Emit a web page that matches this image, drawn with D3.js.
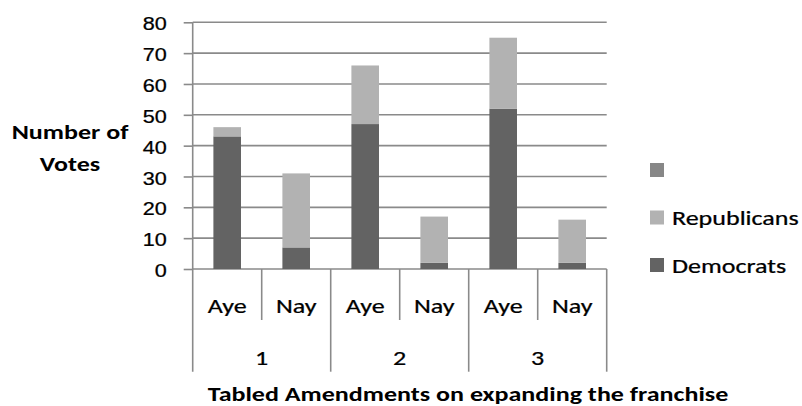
<!DOCTYPE html>
<html>
<head>
<meta charset="utf-8">
<script src="https://cdn.jsdelivr.net/npm/d3@7"></script>
<style>
  html, body { margin: 0; padding: 0; background: #fff; }
  svg { display: block; font-family: Calibri, Carlito, Lato, sans-serif; }
</style>
</head>
<body>
<svg id="chart" width="802" height="406"></svg>
<script>
// Votes on tabled amendments, split by party
const voteLabels = ["Aye", "Nay", "Aye", "Nay", "Aye", "Nay"];
const amendments = ["1", "2", "3"];
const democrats = [43, 7, 47, 2, 52, 2];
const republicans = [3, 24, 19, 15, 23, 14];
const unnamedSeries = [0, 0, 0, 0, 0, 0];
const seriesNames = ["Democrats", "Republicans", ""];
const yTicks = [0, 10, 20, 30, 40, 50, 60, 70, 80];
const yTitle = ["Number of", "Votes"];
const xTitle = "Tabled Amendments on expanding the franchise";

const colors = { "Democrats": "#636363", "Republicans": "#b2b2b2", "": "#878787" };
const gridColor = "#8a8a8a";
const SX = 1.24;     // horizontal stretch applied to labels
const SX_TICK = 1.2; // stretch for the value-axis numbers

const svg = d3.select("#chart");

const plotLeft = 192.7, plotRight = 606.7, plotTop = 22.3, plotBottom = 269;

const x = d3.scaleBand()
  .domain(d3.range(voteLabels.length))
  .range([plotLeft, plotRight])
  .paddingInner(0.6)
  .paddingOuter(0.3);
const step = x.step();

const y = d3.scaleLinear().domain([0, 80]).range([plotBottom, plotTop]);

// rows for stacking
const rows = voteLabels.map((v, i) => ({
  "Democrats": democrats[i],
  "Republicans": republicans[i],
  "": unnamedSeries[i]
}));
const stacked = d3.stack().keys(seriesNames)(rows);

function stretched(sel, tx, ty, sx = SX) {
  sel.attr("x", null).attr("y", null).attr("dy", null)
     .attr("transform", `translate(${tx},${ty}) scale(${sx},1)`);
  return sel;
}

// horizontal gridlines
svg.append("g")
  .selectAll("line")
  .data(yTicks)
  .join("line")
  .attr("x1", plotLeft).attr("x2", plotRight)
  .attr("y1", d => y(d)).attr("y2", d => y(d))
  .attr("stroke", gridColor).attr("stroke-width", 1.6);

// stacked bars
svg.append("g")
  .selectAll("g")
  .data(stacked)
  .join("g")
  .attr("fill", d => colors[d.key])
  .selectAll("rect")
  .data(d => d.map((s, i) => ({ s, i })))
  .join("rect")
  .attr("x", d => x(d.i))
  .attr("width", x.bandwidth())
  .attr("y", d => y(d.s[1]))
  .attr("height", d => y(d.s[0]) - y(d.s[1]));

// value axis with outward ticks
const yAxis = svg.append("g")
  .attr("transform", `translate(${plotLeft},0)`)
  .call(d3.axisLeft(y).tickValues(yTicks).tickSize(9).tickSizeOuter(0).tickFormat(d3.format("d")));
yAxis.select(".domain").remove();
yAxis.selectAll(".tick line").attr("stroke", gridColor).attr("stroke-width", 1.6);
yAxis.selectAll(".tick text")
  .attr("fill", "#000")
  .attr("font-size", 18)
  .attr("stroke", "#000").attr("stroke-width", 0.25)
  .attr("text-anchor", "end")
  .each(function () { stretched(d3.select(this), -26, 7.6, SX_TICK); });

// axis lines: vertical value axis and category separators
const axisBottom = 371.7;
const innerBottom = 320;
svg.append("line")
  .attr("x1", plotLeft).attr("x2", plotLeft).attr("y1", plotTop).attr("y2", axisBottom)
  .attr("stroke", gridColor).attr("stroke-width", 1.6);
svg.append("g")
  .selectAll("line")
  .data(d3.range(1, voteLabels.length + 1))
  .join("line")
  .attr("x1", i => plotLeft + i * step).attr("x2", i => plotLeft + i * step)
  .attr("y1", plotBottom)
  .attr("y2", i => (i % 2 === 0 ? axisBottom : innerBottom))
  .attr("stroke", gridColor).attr("stroke-width", 1.6);

// Aye / Nay labels
svg.append("g")
  .attr("font-size", 21)
  .attr("stroke", "#000").attr("stroke-width", 0.25)
  .selectAll("text")
  .data(voteLabels)
  .join("text")
  .attr("text-anchor", "middle")
  .text(d => d)
  .each(function (d, i) { stretched(d3.select(this), plotLeft + (i + 0.5) * step, 313); });

// amendment number labels
svg.append("g")
  .attr("font-size", 21)
  .attr("stroke", "#000").attr("stroke-width", 0.25)
  .selectAll("text")
  .data(amendments)
  .join("text")
  .attr("text-anchor", "middle")
  .text(d => d)
  .each(function (d, i) { stretched(d3.select(this), plotLeft + (2 * i + 1) * step, 365); });

// axis titles
svg.append("g")
  .attr("font-size", 21)
  .attr("font-weight", "bold")
  .selectAll("text")
  .data(yTitle)
  .join("text")
  .attr("text-anchor", "middle")
  .text(d => d)
  .each(function (d, i) { stretched(d3.select(this), 70, 138.5 + i * 32); });

svg.append("text")
  .attr("font-size", 21)
  .attr("font-weight", "bold")
  .attr("text-anchor", "middle")
  .text(xTitle)
  .call(s => stretched(s, 468, 401));

// legend (top to bottom: unnamed, Republicans, Democrats)
const legendOrder = seriesNames.slice().reverse();
const legend = svg.append("g")
  .selectAll("g")
  .data(legendOrder)
  .join("g")
  .attr("transform", (d, i) => `translate(650,${170 + i * 47.5})`);
legend.append("rect")
  .attr("x", 0).attr("y", -7).attr("width", 14).attr("height", 14)
  .attr("fill", d => colors[d]);
legend.append("text")
  .attr("font-size", 21)
  .attr("stroke", "#000").attr("stroke-width", 0.25)
  .text(d => d)
  .each(function () { stretched(d3.select(this), 22, 7.5); });
</script>
</body>
</html>
